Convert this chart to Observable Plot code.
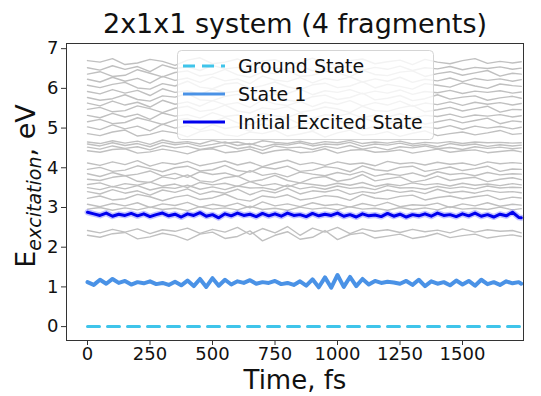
<!DOCTYPE html>
<html>
<head>
<meta charset="utf-8">
<script src="https://cdn.jsdelivr.net/npm/d3@7"></script>
<script src="https://cdn.jsdelivr.net/npm/@observablehq/plot@0.6"></script>
<style>
  html, body { margin: 0; padding: 0; background: #fff; }
  #chart { position: relative; width: 541px; height: 396px; }
</style>
</head>
<body>
<div id="chart"></div>
<script>
const titleText = "2x1x1 system (4 fragments)";
const xLabel = "Time, fs";
const legendLabels = ["Ground State", "State 1", "Initial Excited State"];
const xTicks = [0, 250, 500, 750, 1000, 1250, 1500];
const yTicks = [0, 1, 2, 3, 4, 5, 6, 7];

const timeCoarse = [0,50,100,150,200,250,300,350,400,450,500,550,600,650,700,750,800,850,900,950,1000,1050,1100,1150,1200,1250,1300,1350,1400,1450,1500,1550,1600,1650,1700,1735];
const timeFine = [0,25,50,75,100,125,150,175,200,225,250,275,300,325,350,375,400,425,450,475,500,525,550,575,600,625,650,675,700,725,750,775,800,825,850,875,900,925,950,975,1000,1025,1050,1075,1100,1125,1150,1175,1200,1225,1250,1275,1300,1325,1350,1375,1400,1425,1450,1475,1500,1525,1550,1575,1600,1625,1650,1675,1700,1725,1735];
const groundTime = [0, 1735];
const groundState = [0, 0];

const state1 = [1.12,1.05,1.18,1.08,1.20,1.10,1.15,1.06,1.12,1.09,
 1.14,1.07,1.10,1.05,1.13,1.04,1.16,1.02,1.20,1.00,
 1.22,1.03,1.18,1.06,1.14,1.10,1.17,1.08,1.12,1.10,
 1.15,1.07,1.10,1.05,1.14,1.03,1.19,0.99,1.24,0.98,
 1.30,1.00,1.25,1.02,1.20,1.06,1.15,1.10,1.13,1.11,
 1.08,1.15,1.05,1.18,1.02,1.14,1.08,1.12,1.04,1.16,
 1.06,1.15,1.03,1.18,1.07,1.12,1.05,1.14,1.09,1.12,1.08];

const initialExcited = [2.88,2.84,2.80,2.86,2.78,2.83,2.80,2.85,2.79,2.84,
 2.77,2.82,2.86,2.79,2.83,2.76,2.84,2.80,2.87,2.78,
 2.82,2.74,2.84,2.79,2.86,2.80,2.83,2.77,2.85,2.79,
 2.84,2.78,2.86,2.80,2.82,2.77,2.85,2.79,2.83,2.80,
 2.86,2.78,2.82,2.76,2.84,2.79,2.81,2.77,2.85,2.78,
 2.83,2.76,2.82,2.79,2.84,2.78,2.86,2.80,2.82,2.77,
 2.84,2.79,2.86,2.78,2.82,2.76,2.83,2.79,2.88,2.75,2.74];

const otherStates = [
 [2.30,2.25,2.34,2.37,2.21,2.26,2.35,2.29,2.18,2.33,2.38,2.22,2.27,2.41,2.16,2.30,2.39,2.20,2.25,2.42,2.19,2.32,2.36,2.23,2.28,2.33,2.22,2.27,2.35,2.24,2.29,2.33,2.23,2.28,2.31,2.27],
 [2.42,2.36,2.45,2.38,2.46,2.34,2.44,2.40,2.48,2.35,2.45,2.38,2.50,2.32,2.47,2.36,2.52,2.30,2.48,2.38,2.50,2.34,2.46,2.40,2.44,2.37,2.45,2.39,2.43,2.36,2.46,2.38,2.44,2.40,2.42,2.36],
 [2.96,3.00,2.93,2.99,2.94,3.01,2.95,2.98,2.92,3.02,2.96,2.99,2.94,3.03,2.95,2.98,2.93,3.01,2.96,2.99,2.94,3.02,2.96,2.98,2.93,3.00,2.95,2.99,2.94,3.02,2.96,2.98,2.95,3.01,2.94,2.97],
 [3.08,3.02,3.10,3.04,3.12,3.00,3.09,3.05,3.13,3.01,3.08,3.03,3.11,2.99,3.14,3.04,3.09,3.02,3.12,3.05,3.08,3.01,3.10,3.04,3.13,3.02,3.07,3.05,3.11,3.00,3.09,3.04,3.12,3.03,3.08,3.06],
 [3.23,3.29,3.19,3.22,3.33,3.27,3.17,3.26,3.31,3.20,3.24,3.34,3.21,3.16,3.29,3.25,3.32,3.19,3.23,3.30,3.27,3.18,3.33,3.24,3.21,3.28,3.31,3.19,3.25,3.29,3.22,3.27,3.31,3.20,3.26,3.24],
 [3.40,3.34,3.45,3.36,3.42,3.31,3.44,3.38,3.47,3.33,3.41,3.36,3.46,3.32,3.43,3.37,3.48,3.34,3.42,3.39,3.45,3.33,3.40,3.36,3.44,3.38,3.42,3.35,3.46,3.37,3.41,3.36,3.43,3.38,3.40,3.37],
 [3.50,3.45,3.53,3.47,3.55,3.44,3.51,3.48,3.56,3.46,3.52,3.45,3.54,3.49,3.50,3.44,3.57,3.47,3.52,3.46,3.54,3.48,3.51,3.45,3.55,3.49,3.50,3.46,3.53,3.48,3.52,3.47,3.54,3.49,3.51,3.50],
 [3.58,3.62,3.52,3.60,3.56,3.64,3.54,3.59,3.50,3.63,3.57,3.61,3.53,3.65,3.55,3.60,3.52,3.62,3.58,3.54,3.61,3.56,3.63,3.53,3.59,3.55,3.62,3.57,3.60,3.54,3.61,3.56,3.59,3.55,3.60,3.57],
 [3.71,3.68,3.76,3.80,3.66,3.63,3.77,3.72,3.82,3.67,3.64,3.75,3.79,3.65,3.70,3.81,3.68,3.62,3.74,3.78,3.66,3.71,3.83,3.67,3.72,3.77,3.64,3.69,3.79,3.68,3.73,3.76,3.65,3.71,3.75,3.70],
 [3.85,3.78,3.88,3.80,3.84,3.92,3.79,3.86,3.76,3.90,3.83,3.87,3.78,3.93,3.81,3.86,3.77,3.89,3.84,3.80,3.88,3.82,3.91,3.79,3.85,3.81,3.87,3.78,3.90,3.83,3.86,3.80,3.88,3.82,3.85,3.84],
 [3.96,4.01,3.91,3.94,4.05,3.98,3.90,4.00,4.04,3.92,3.95,4.06,3.93,3.89,4.02,3.97,4.04,3.91,3.94,4.03,3.99,3.90,4.05,3.95,3.92,4.01,4.04,3.91,3.96,4.02,3.93,3.98,4.04,3.91,3.97,3.96],
 [4.12,4.06,4.15,4.08,4.18,4.04,4.13,4.09,4.16,4.05,4.11,4.17,4.07,4.14,4.03,4.12,4.19,4.08,4.13,4.06,4.15,4.09,4.12,4.05,4.16,4.10,4.13,4.07,4.14,4.09,4.12,4.06,4.15,4.10,4.13,4.11],
 [4.43,4.39,4.46,4.48,4.37,4.40,4.47,4.42,4.35,4.45,4.48,4.38,4.41,4.47,4.36,4.43,4.46,4.38,4.40,4.48,4.37,4.44,4.46,4.39,4.41,4.45,4.37,4.42,4.47,4.39,4.43,4.45,4.38,4.41,4.44,4.40],
 [4.52,4.47,4.55,4.49,4.53,4.45,4.56,4.50,4.54,4.46,4.51,4.57,4.48,4.53,4.44,4.55,4.50,4.52,4.46,4.54,4.49,4.56,4.47,4.52,4.45,4.53,4.50,4.55,4.48,4.51,4.46,4.53,4.49,4.52,4.48,4.50],
 [4.60,4.55,4.63,4.56,4.61,4.53,4.64,4.58,4.62,4.54,4.59,4.65,4.56,4.61,4.52,4.60,4.57,4.63,4.55,4.60,4.58,4.64,4.54,4.60,4.57,4.62,4.55,4.59,4.53,4.61,4.56,4.60,4.54,4.58,4.55,4.57],
 [4.65,4.61,4.68,4.62,4.67,4.59,4.70,4.63,4.66,4.60,4.69,4.62,4.65,4.58,4.68,4.64,4.61,4.67,4.60,4.66,4.63,4.69,4.61,4.65,4.62,4.67,4.60,4.64,4.62,4.66,4.61,4.65,4.63,4.64,4.62,4.63],
 [4.86,4.81,4.90,4.95,4.80,4.84,4.93,4.88,4.78,4.91,4.96,4.83,4.79,4.90,4.86,4.94,4.80,4.85,4.92,4.77,4.88,4.95,4.82,4.84,4.91,4.79,4.87,4.93,4.81,4.86,4.90,4.83,4.88,4.94,4.84,4.86],
 [5.03,4.96,5.08,4.98,5.05,4.93,5.10,5.00,5.06,4.95,5.09,4.99,5.04,4.92,5.11,5.01,4.97,5.07,4.94,5.05,5.00,5.09,4.96,5.04,4.98,5.08,4.95,5.03,4.99,5.06,4.97,5.05,5.00,5.04,4.98,5.02],
 [5.16,5.22,5.11,5.14,5.26,5.18,5.09,5.20,5.24,5.12,5.15,5.27,5.13,5.08,5.21,5.17,5.25,5.10,5.14,5.23,5.19,5.09,5.26,5.15,5.12,5.21,5.24,5.10,5.16,5.22,5.13,5.19,5.25,5.11,5.18,5.16],
 [5.32,5.26,5.37,5.28,5.35,5.22,5.38,5.30,5.34,5.25,5.39,5.29,5.33,5.23,5.36,5.31,5.27,5.38,5.24,5.34,5.30,5.37,5.26,5.33,5.28,5.36,5.25,5.32,5.29,5.35,5.27,5.33,5.30,5.34,5.28,5.31],
 [5.47,5.52,5.41,5.44,5.56,5.49,5.39,5.50,5.55,5.42,5.46,5.58,5.43,5.38,5.51,5.47,5.54,5.40,5.45,5.53,5.48,5.39,5.55,5.44,5.42,5.51,5.57,5.41,5.46,5.52,5.43,5.49,5.55,5.40,5.47,5.46],
 [5.63,5.56,5.68,5.58,5.65,5.53,5.70,5.60,5.66,5.55,5.69,5.59,5.64,5.52,5.71,5.61,5.57,5.67,5.54,5.65,5.60,5.69,5.56,5.64,5.58,5.68,5.55,5.63,5.59,5.66,5.57,5.65,5.60,5.64,5.58,5.62],
 [5.77,5.70,5.74,5.84,5.72,5.68,5.81,5.78,5.87,5.71,5.69,5.80,5.85,5.73,5.76,5.86,5.70,5.67,5.79,5.83,5.72,5.77,5.88,5.71,5.75,5.82,5.69,5.74,5.84,5.73,5.78,5.81,5.70,5.76,5.80,5.75],
 [5.92,5.86,5.97,5.88,5.95,5.82,5.99,5.90,5.94,5.85,5.98,5.89,5.93,5.83,5.96,5.91,5.87,5.98,5.84,5.94,5.90,5.97,5.86,5.93,5.88,5.96,5.85,5.92,5.89,5.95,5.87,5.93,5.90,5.94,5.88,5.91],
 [6.08,6.02,6.10,6.15,6.01,5.98,6.12,6.06,6.18,6.03,5.99,6.11,6.14,6.00,6.07,6.16,6.04,5.97,6.09,6.13,6.02,6.06,6.17,6.01,6.10,6.05,5.98,6.12,6.08,6.03,6.14,6.06,6.00,6.11,6.07,6.05],
 [6.23,6.16,6.28,6.18,6.25,6.13,6.30,6.20,6.26,6.15,6.29,6.19,6.24,6.12,6.31,6.21,6.17,6.27,6.14,6.25,6.20,6.29,6.16,6.24,6.18,6.28,6.15,6.23,6.19,6.26,6.17,6.25,6.20,6.24,6.18,6.22],
 [6.36,6.42,6.30,6.33,6.47,6.38,6.29,6.40,6.44,6.31,6.36,6.48,6.34,6.28,6.41,6.37,6.45,6.30,6.33,6.43,6.39,6.29,6.46,6.35,6.32,6.41,6.44,6.30,6.37,6.42,6.33,6.39,6.45,6.31,6.38,6.36],
 [6.52,6.46,6.57,6.48,6.55,6.42,6.59,6.50,6.54,6.45,6.58,6.49,6.53,6.43,6.56,6.51,6.47,6.58,6.44,6.54,6.50,6.57,6.46,6.53,6.48,6.56,6.45,6.52,6.49,6.55,6.47,6.53,6.50,6.54,6.48,6.51],
 [6.70,6.66,6.75,6.60,6.64,6.73,6.68,6.58,6.71,6.77,6.62,6.66,6.74,6.59,6.69,6.72,6.61,6.65,6.76,6.63,6.58,6.70,6.74,6.62,6.67,6.71,6.60,6.73,6.66,6.62,6.70,6.75,6.63,6.68,6.64,6.67]
];

const grayRows = otherStates.flatMap((vals, k) => vals.map((v, i) => ({t: timeCoarse[i], e: v, s: k})));
const s1Rows = state1.map((v, i) => ({t: timeFine[i], e: v}));
const ieRows = initialExcited.map((v, i) => ({t: timeFine[i], e: v}));
const gRows = groundState.map((v, i) => ({t: groundTime[i], e: v}));

const C_GROUND = "#3fc4ea", C_S1 = "#4a92e6", C_IE = "#0000ee", C_GRAY = "#c0c0c0";

const plot = Plot.plot({
  width: 541,
  height: 396,
  marginTop: 43,
  marginBottom: 56,
  marginLeft: 66,
  marginRight: 18,
  style: {fontFamily: "DejaVu Sans, sans-serif", fontSize: "18px", color: "#111", background: "white"},
  x: {domain: [-84, 1744]},
  y: {domain: [-0.35, 7.13]},
  marks: [
    Plot.line(grayRows, {x: "t", y: "e", z: "s", stroke: C_GRAY, strokeWidth: 1.4}),
    Plot.line(ieRows, {x: "t", y: "e", stroke: "#7a7aff", strokeWidth: 6, strokeOpacity: 0.45}),
    Plot.line(ieRows, {x: "t", y: "e", stroke: C_IE, strokeWidth: 3}),
    Plot.line(s1Rows, {x: "t", y: "e", stroke: C_S1, strokeWidth: 4}),
    Plot.line(gRows, {x: "t", y: "e", stroke: C_GROUND, strokeWidth: 3, strokeDasharray: "12,8"}),
    Plot.axisX({ticks: xTicks, tickFormat: d => String(d), tickSize: 5, tickPadding: 2, label: null, fontSize: 18, stroke: "#333"}),
    Plot.axisY({ticks: yTicks, tickFormat: d => String(d), tickSize: 5, tickPadding: 3, label: null, fontSize: 18, stroke: "#333"}),
    Plot.frame({stroke: "#333", strokeWidth: 1})
  ]
});

document.getElementById("chart").appendChild(plot);
const svg = d3.select(plot);

// Title
svg.append("text")
  .attr("x", 295).attr("y", 33)
  .attr("text-anchor", "middle")
  .attr("font-size", 27).attr("fill", "#111")
  .text(titleText);

// X label
svg.append("text")
  .attr("x", 295).attr("y", 389)
  .attr("text-anchor", "middle")
  .attr("font-size", 26).attr("fill", "#111")
  .text(xLabel);

// Y label with subscript
const yl = svg.append("text")
  .attr("transform", "translate(35,186) rotate(-90)")
  .attr("text-anchor", "middle")
  .attr("font-size", 27).attr("fill", "#111");
yl.append("tspan").text("E");
yl.append("tspan").attr("font-size", 19).attr("font-style", "italic").attr("dy", 6).text("excitation");
yl.append("tspan").attr("dy", -6).text(", eV");

// Legend
const lg = svg.append("g").attr("text-anchor", "start");
lg.append("rect")
  .attr("x", 177.5).attr("y", 50.5).attr("width", 256).attr("height", 89)
  .attr("rx", 4).attr("fill", "white").attr("fill-opacity", 0.8)
  .attr("stroke", "#d5d5d5");
const legendStyles = [
  {c: C_GROUND, w: 3, dash: "12,7"},
  {c: C_S1, w: 3, dash: null},
  {c: C_IE, w: 3, dash: null}
];
legendLabels.forEach((lab, i) => {
  const y = 66 + i * 28;
  const ln = lg.append("line").attr("x1", 183).attr("x2", 225).attr("y1", y).attr("y2", y)
    .attr("stroke", legendStyles[i].c).attr("stroke-width", legendStyles[i].w);
  if (legendStyles[i].dash) ln.attr("stroke-dasharray", legendStyles[i].dash);
  lg.append("text").attr("x", 238).attr("y", y).attr("dy", "0.35em")
    .attr("text-anchor", "start")
    .attr("font-size", 19).attr("fill", "#111").text(lab);
});
</script>
</body>
</html>
